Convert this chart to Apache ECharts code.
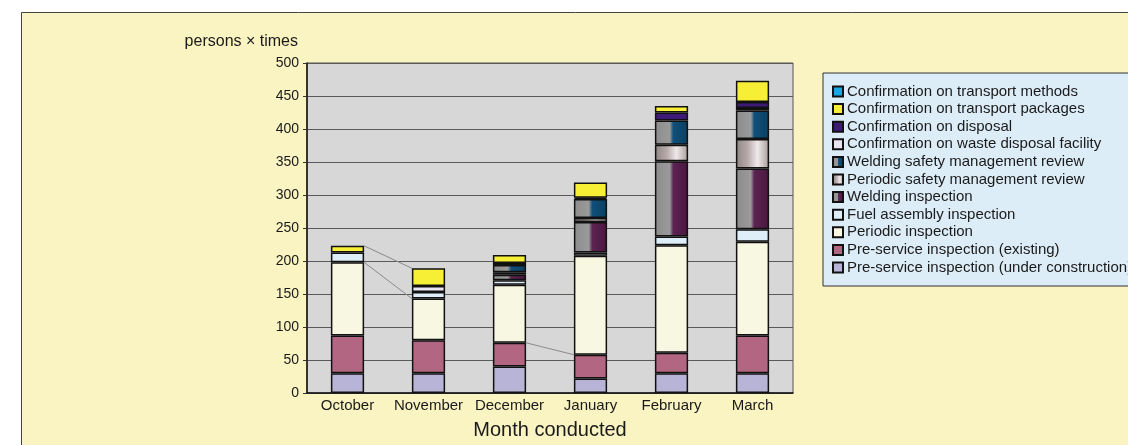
<!DOCTYPE html>
<html>
<head>
<meta charset="utf-8">
<script src="https://cdn.jsdelivr.net/npm/echarts@6/dist/echarts.min.js"></script>
<style>
html,body{margin:0;padding:0;background:#fff;}
#chart{width:1128px;height:445px;}
</style>
</head>
<body>
<div id="chart"></div>
<script>
// ---- data ----
const months = ['October', 'November', 'December', 'January', 'February', 'March'];
const yTicks = [0, 50, 100, 150, 200, 250, 300, 350, 400, 450, 500];

const underConstruction = [30, 30, 40, 22, 30, 30];
const existing          = [57, 50, 36, 36, 31, 57];
const periodicInsp      = [111, 63, 88, 150, 163, 142];
const fuelAssembly      = [15, 10, 7, 5, 13, 19];
const weldingInsp       = [0, 0, 8, 46, 114, 92];
const periodicSafety    = [0, 0, 4, 6, 25, 45];
const weldingSafety     = [0, 0, 11, 29, 37, 43];
const wasteDisposal     = [0, 9, 0, 0, 0, 4];
const disposal          = [0, 0, 3, 2, 12, 9];
const transportPackages = [10, 27, 12, 23, 10, 32];
const transportMethods  = [0, 0, 0, 0, 0, 0];

const seriesNames = [
  'Pre-service inspection (under construction)',
  'Pre-service inspection (existing)',
  'Periodic inspection',
  'Fuel assembly inspection',
  'Welding inspection',
  'Periodic safety management review',
  'Welding safety management review',
  'Confirmation on waste disposal facility',
  'Confirmation on disposal',
  'Confirmation on transport packages',
  'Confirmation on transport methods'
];
const seriesValues = [underConstruction, existing, periodicInsp, fuelAssembly, weldingInsp,
  periodicSafety, weldingSafety, wasteDisposal, disposal, transportPackages, transportMethods];

// series lines (Excel-style connector lines): from month index, stack level
const seriesLineFromMonth = [0, 0, 2];
const seriesLineLevel     = [2, 10, 1];

// ---- styles ----
const FONT = 'Liberation Sans, Arial, Helvetica, sans-serif';
const G = echarts.graphic.LinearGradient;
const colors = [
  '#b8b4d8',
  '#b26681',
  '#f8f7e1',
  '#ddeef8',
  new G(0, 0, 1, 0, [{offset: 0, color: '#8c8c8c'}, {offset: 0.45, color: '#9a9a9a'}, {offset: 0.55, color: '#5c2452'}, {offset: 1, color: '#4a163f'}]),
  new G(0, 0, 1, 0, [{offset: 0, color: '#8f8585'}, {offset: 0.35, color: '#b7a9a9'}, {offset: 0.65, color: '#efe9e9'}, {offset: 1, color: '#a89a9a'}]),
  new G(0, 0, 1, 0, [{offset: 0, color: '#8c8c8c'}, {offset: 0.45, color: '#9a9a9a'}, {offset: 0.55, color: '#10507a'}, {offset: 1, color: '#0b3f62'}]),
  '#e9e5f1',
  '#3e1a78',
  '#f6ef36',
  '#1aa7e0'
];

const BAR_FRAC = 0.41;

function cumTop(level, idx) {
  let s = 0;
  for (let k = 0; k <= level; k++) s += seriesValues[k][idx];
  return s;
}

const series = seriesNames.map((name, k) => ({
  name: name,
  type: 'bar',
  stack: 'total',
  barWidth: (BAR_FRAC * 100) + '%',
  data: seriesValues[k].map(v => v === 0 ? null : v),
  itemStyle: {color: colors[k], borderColor: '#111', borderWidth: 1.5},
  emphasis: {disabled: true},
  animation: false
}));

const lineData = seriesLineFromMonth.map((m, i) => [m, cumTop(seriesLineLevel[i], m), cumTop(seriesLineLevel[i], m + 1)]);
series.push({
  type: 'custom',
  name: 'serieslines',
  silent: true,
  animation: false,
  encode: {x: 0, y: 1},
  data: lineData,
  renderItem: function (params, api) {
    const i = api.value(0);
    const p1 = api.coord([i, api.value(1)]);
    const p2 = api.coord([i + 1, api.value(2)]);
    const hw = api.size([1, 0])[0] * BAR_FRAC / 2;
    return {
      type: 'line',
      shape: {x1: p1[0] + hw, y1: p1[1], x2: p2[0] - hw, y2: p2[1]},
      style: {stroke: '#8a8a8a', lineWidth: 1}
    };
  }
});

const chart = echarts.init(document.getElementById('chart'), null, {renderer: 'canvas'});
chart.setOption({
  animation: false,
  textStyle: {fontFamily: FONT},
  graphic: [
    {type: 'rect', z: -10, silent: true, shape: {x: 21.5, y: 12.5, width: 1200, height: 600},
     style: {fill: '#faf4c3', stroke: '#444', lineWidth: 1}},
    {type: 'text', x: 298, y: 42, silent: true,
     style: {text: 'persons \u00d7 times', fontSize: 16, fill: '#1a1a1a', fontFamily: FONT,
             align: 'right', verticalAlign: 'middle'}}
  ],
  grid: {left: 307, top: 63, width: 486, height: 330, show: true, backgroundColor: '#d7d7d7',
         borderColor: '#555', borderWidth: 1, containLabel: false, outerBoundsMode: 'none'},
  legend: {
    orient: 'vertical', left: 823, top: 73,
    data: seriesNames.slice().reverse(),
    backgroundColor: '#ddedf8', borderColor: '#333', borderWidth: 1,
    padding: [11, 60, 11, 9],
    itemWidth: 10, itemHeight: 10, itemGap: 2.6,
    icon: 'rect',
    selectedMode: false,
    textStyle: {fontSize: 15, color: '#1a1a1a', lineHeight: 15, padding: [0, 0, 0, -1]}
  },
  xAxis: {
    type: 'category', data: months,
    name: 'Month conducted', nameLocation: 'middle', nameGap: 27,
    nameTextStyle: {fontSize: 20, color: '#1a1a1a', verticalAlign: 'top'},
    axisLine: {lineStyle: {color: '#111', width: 1.5}},
    axisTick: {inside: true, length: 4, lineStyle: {color: '#333'}},
    axisLabel: {fontSize: 15, color: '#1a1a1a', margin: 5, interval: 0},
    splitLine: {show: false}
  },
  yAxis: {
    type: 'value', min: yTicks[0], max: yTicks[yTicks.length - 1], interval: yTicks[1] - yTicks[0],
    axisLine: {show: true, lineStyle: {color: '#111', width: 1.5}},
    axisTick: {show: true, length: 4, lineStyle: {color: '#333'}},
    axisLabel: {fontSize: 14, color: '#1a1a1a', margin: 8},
    splitLine: {lineStyle: {color: '#5a5a5a', width: 1}}
  },
  series: series
});
</script>
</body>
</html>
